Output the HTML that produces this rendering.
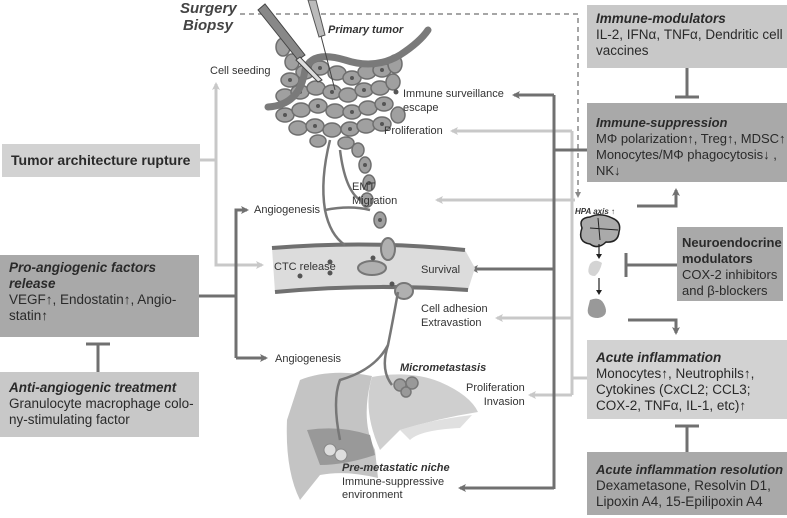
<!DOCTYPE html>
<html><head><meta charset="utf-8"><style>
body{margin:0;background:#fff;}
#c{position:relative;width:787px;height:518px;overflow:hidden;font-family:"Liberation Sans",sans-serif;color:#2a2a2a;}
.b{position:absolute;box-sizing:border-box;padding:5px 9px;font-size:13.5px;line-height:16px;white-space:nowrap;}
.b i{font-weight:bold;}
.l{position:absolute;font-size:11px;line-height:13.5px;color:#333;white-space:nowrap;}
svg{position:absolute;left:0;top:0;}
</style></head><body><div id="c">
<svg width="787" height="518" viewBox="0 0 787 518">
<defs>
<marker id="ad" markerWidth="8" markerHeight="8" refX="6" refY="4" orient="auto" markerUnits="userSpaceOnUse"><path d="M0,0 L8,4 L0,8 L2,4z" fill="#707070"/></marker>
<marker id="al" markerWidth="8" markerHeight="8" refX="6" refY="4" orient="auto" markerUnits="userSpaceOnUse"><path d="M0,0 L8,4 L0,8 L2,4z" fill="#c8c8c8"/></marker>
</defs>
<path d="M240,14 H578 V193" fill="none" stroke="#888" stroke-width="1.5" stroke-dasharray="5,4"/>
<path d="M575,192 L578,198 L581,192z" fill="#888"/>
<g stroke="#c8c8c8" stroke-width="3" fill="none">
<path d="M200,160 H216 V84" marker-end="url(#al)"/>
<path d="M216,160 V265 H262" marker-end="url(#al)"/>
<path d="M572,131 V395"/>
<path d="M572,131 H452" marker-end="url(#al)"/>
<path d="M575,200 H437" marker-end="url(#al)"/>
<path d="M572,318 H497" marker-end="url(#al)"/>
<path d="M572,395 H530" marker-end="url(#al)"/>
<path d="M572,378 H587"/>
</g>
<g stroke="#707070" stroke-width="3" fill="none">
<path d="M554,95 V489"/>
<path d="M554,150 H587"/>
<path d="M554,95 H514" marker-end="url(#ad)"/>
<path d="M554,269 H472" marker-end="url(#ad)"/>
<path d="M554,488 H460" marker-end="url(#ad)"/>
<path d="M199,296 H236"/>
<path d="M236,358 V210 H247" marker-end="url(#ad)"/>
<path d="M236,358 H266" marker-end="url(#ad)"/>
<path d="M637,206 H676 V190" marker-end="url(#ad)"/>
<path d="M628,320 H676 V333" marker-end="url(#ad)"/>
<path d="M687,68 V97 M675,97 H699"/>
<path d="M98,344 V372 M86,344 H110"/>
<path d="M626,253 V277 M626,265 H677"/>
<path d="M687,426 V452 M675,426 H699"/>
</g>
<path d="M272,248 Q370,240 465,250 L475,268 L468,290 Q370,283 275,292z" fill="#dcdcdc"/>
<path d="M272,248 Q370,240 465,250 M275,292 Q370,283 468,290" fill="none" stroke="#707070" stroke-width="4"/>
<ellipse cx="372" cy="268" rx="14" ry="7" fill="#b0b0b0" stroke="#777" stroke-width="2"/>
<ellipse cx="388" cy="249" rx="7" ry="11" fill="#b0b0b0" stroke="#777" stroke-width="2"/>
<ellipse cx="404" cy="291" rx="9" ry="8" fill="#b0b0b0" stroke="#777" stroke-width="2"/>
<g fill="#555"><circle cx="300" cy="276" r="2.5"/><circle cx="330" cy="262" r="2.5"/><circle cx="330" cy="273" r="2.5"/><circle cx="373" cy="258" r="2.5"/><circle cx="392" cy="284" r="2.5"/></g>
<path d="M300,380 Q330,368 372,376 Q360,420 375,450 L378,478 Q345,470 320,475 L300,500 Q285,470 287,420z" fill="#c4c4c4"/>
<path d="M372,377 Q410,370 440,382 Q470,395 478,412 Q440,418 400,430 L380,450 Q362,410 372,377z" fill="#cfcfcf"/>
<path d="M400,430 Q430,420 472,415 L460,428 Q420,430 410,440z" fill="#e0e0e0"/>
<path d="M307,430 Q340,425 370,435 L375,455 Q345,465 320,465z" fill="#999"/>
<circle cx="330" cy="450" r="6" fill="#ddd" stroke="#888"/><circle cx="341" cy="455" r="6" fill="#ddd" stroke="#888"/>
<g fill="#999" stroke="#777" stroke-width="1.5"><circle cx="400" cy="385" r="6"/><circle cx="412" cy="383" r="6"/><circle cx="406" cy="392" r="5"/></g>
<g stroke="#777" stroke-width="2.5" fill="none">
<path d="M330,140 Q320,180 325,210 Q330,235 345,245"/>
<path d="M325,210 Q350,205 370,210"/>
<path d="M340,150 Q345,190 360,200"/>
<path d="M398,292 Q393,320 388,345 Q375,370 340,380 Q332,400 340,440"/>
<path d="M388,345 Q380,370 392,385"/>
</g>
<g fill="#a0a0a0" stroke="#6e6e6e" stroke-width="1.5">
<ellipse cx="283" cy="47" rx="7" ry="9"/><ellipse cx="292" cy="62" rx="7" ry="8"/>
<ellipse cx="290" cy="80" rx="9" ry="7"/><ellipse cx="305" cy="72" rx="9" ry="7"/><ellipse cx="320" cy="68" rx="9" ry="7"/><ellipse cx="337" cy="73" rx="9" ry="7"/><ellipse cx="352" cy="78" rx="9" ry="7"/><ellipse cx="367" cy="72" rx="9" ry="7"/><ellipse cx="382" cy="70" rx="9" ry="7"/><ellipse cx="395" cy="64" rx="7" ry="9"/>
<ellipse cx="285" cy="96" rx="9" ry="7"/><ellipse cx="300" cy="92" rx="9" ry="7"/><ellipse cx="316" cy="88" rx="9" ry="7"/><ellipse cx="332" cy="92" rx="9" ry="7"/><ellipse cx="348" cy="95" rx="9" ry="7"/><ellipse cx="364" cy="90" rx="9" ry="7"/><ellipse cx="380" cy="88" rx="9" ry="7"/><ellipse cx="393" cy="82" rx="7" ry="8"/>
<ellipse cx="285" cy="115" rx="9" ry="7"/><ellipse cx="301" cy="110" rx="9" ry="7"/><ellipse cx="318" cy="106" rx="9" ry="7"/><ellipse cx="335" cy="111" rx="9" ry="7"/><ellipse cx="352" cy="112" rx="9" ry="7"/><ellipse cx="368" cy="108" rx="9" ry="7"/><ellipse cx="384" cy="104" rx="9" ry="7"/><ellipse cx="398" cy="115" rx="7" ry="8"/>
<ellipse cx="298" cy="128" rx="9" ry="7"/><ellipse cx="315" cy="126" rx="9" ry="7"/><ellipse cx="332" cy="130" rx="9" ry="7"/><ellipse cx="350" cy="129" rx="9" ry="7"/><ellipse cx="366" cy="126" rx="9" ry="7"/><ellipse cx="382" cy="124" rx="9" ry="7"/>
<ellipse cx="318" cy="141" rx="8" ry="6"/><ellipse cx="346" cy="143" rx="8" ry="6"/><ellipse cx="358" cy="150" rx="6" ry="7"/><ellipse cx="365" cy="165" rx="6" ry="8"/><ellipse cx="369" cy="183" rx="6" ry="8"/><ellipse cx="367" cy="200" rx="6" ry="7"/><ellipse cx="380" cy="220" rx="6" ry="8"/>
</g>
<g fill="#555"><circle cx="290" cy="80" r="2"/><circle cx="320" cy="68" r="2"/><circle cx="352" cy="78" r="2"/><circle cx="382" cy="70" r="2"/><circle cx="300" cy="92" r="2"/><circle cx="332" cy="92" r="2"/><circle cx="364" cy="90" r="2"/><circle cx="285" cy="115" r="2"/><circle cx="318" cy="106" r="2"/><circle cx="352" cy="112" r="2"/><circle cx="384" cy="104" r="2"/><circle cx="315" cy="126" r="2"/><circle cx="350" cy="129" r="2"/><circle cx="382" cy="124" r="2"/><circle cx="365" cy="165" r="2"/><circle cx="369" cy="183" r="2"/><circle cx="380" cy="220" r="2"/><circle cx="396" cy="92" r="2.5"/></g>
<path d="M268,107 Q300,105 305,70 Q312,50 345,60 Q375,70 400,55 Q420,42 428,30" fill="none" stroke="#7a7a7a" stroke-width="7" stroke-linecap="round"/>
<path d="M258,10 L265,4 L305,55 L298,60z" fill="#888" stroke="#444"/>
<path d="M300,57 L322,80 L318,82 L296,60z" fill="#ddd" stroke="#444"/>
<path d="M308,0 L316,0 L325,35 L319,37z" fill="#bbb" stroke="#555"/>
<path d="M321,36 L335,90" stroke="#444" stroke-width="1"/>
<path d="M582,228 Q578,218 590,217 Q600,212 612,218 Q622,222 619,232 Q618,243 606,242 Q598,250 590,244 Q577,242 582,228z" fill="#aaa" stroke="#222" stroke-width="1.5"/>
<path d="M598,218 L600,240 M590,228 L618,230" stroke="#222" stroke-width="1" fill="none"/>
<path d="M599,244 V256" stroke="#222" stroke-width="1.2"/><path d="M596,254 L599,259 L602,254z" fill="#222"/>
<path d="M590,264 Q595,258 602,263 Q600,272 595,276 Q585,276 590,264z" fill="#d4d4d4"/>
<path d="M599,278 V292" stroke="#222" stroke-width="1.2"/><path d="M596,290 L599,295 L602,290z" fill="#222"/>
<path d="M590,300 Q600,296 604,304 Q610,316 598,318 Q586,318 588,308z" fill="#999"/>
</svg>

<div class="b" style="left:587px;top:5px;width:200px;height:63px;background:#c8c8c8;padding-top:6px"><i>Immune-modulators</i><br>IL-2, IFNα, TNFα, Dendritic cell<br>vaccines</div>
<div class="b" style="left:587px;top:103px;width:200px;height:79px;background:#a9a9a9;padding-top:12px;font-size:13px"><i>Immune-suppression</i><br>MΦ polarization↑, Treg↑, MDSC↑<br>Monocytes/MΦ phagocytosis↓ ,<br>NK↓</div>
<div class="b" style="left:2px;top:144px;width:198px;height:33px;background:#d2d2d2;font-weight:bold;padding-top:8px;font-size:14px">Tumor architecture rupture</div>
<div class="b" style="left:0;top:255px;width:199px;height:82px;background:#a9a9a9"><i>Pro-angiogenic factors</i><br><i>release</i><br>VEGF↑, Endostatin↑, Angio-<br>statin↑</div>
<div class="b" style="left:0;top:372px;width:199px;height:65px;background:#c8c8c8;padding-top:8px"><i>Anti-angiogenic treatment</i><br>Granulocyte macrophage colo-<br>ny-stimulating factor</div>
<div class="b" style="left:677px;top:227px;width:106px;height:74px;background:#a9a9a9;padding:8px 5px;font-size:13px"><b>Neuroendocrine</b><br><b>modulators</b><br>COX-2 inhibitors<br>and β-blockers</div>
<div class="b" style="left:587px;top:340px;width:200px;height:79px;background:#d2d2d2;padding-top:10px"><i>Acute inflammation</i><br>Monocytes↑, Neutrophils↑,<br>Cytokines (CxCL2; CCL3;<br>COX-2, TNFα, IL-1, etc)↑</div>
<div class="b" style="left:587px;top:452px;width:200px;height:63px;background:#a9a9a9;padding-top:10px"><i style="font-size:13px">Acute inflammation resolution</i><br>Dexametasone, Resolvin D1,<br>Lipoxin A4, 15-Epilipoxin A4</div>

<div class="l" style="left:180px;top:0px;font-size:15px;line-height:17px;font-weight:bold;font-style:italic;color:#444">Surgery</div>
<div class="l" style="left:183px;top:17px;font-size:15px;line-height:17px;font-weight:bold;font-style:italic;color:#444">Biopsy</div>
<div class="l" style="left:328px;top:24px;font-weight:bold;font-style:italic">Primary tumor</div>
<div class="l" style="left:210px;top:65px">Cell seeding</div>
<div class="l" style="left:403px;top:88px">Immune surveillance<br>escape</div>
<div class="l" style="left:384px;top:125px">Proliferation</div>
<div class="l" style="left:352px;top:181px">EMT<br>Migration</div>
<div class="l" style="left:254px;top:204px">Angiogenesis</div>
<div class="l" style="left:274px;top:261px">CTC release</div>
<div class="l" style="left:421px;top:264px">Survival</div>
<div class="l" style="left:421px;top:303px">Cell adhesion<br>Extravastion</div>
<div class="l" style="left:275px;top:353px">Angiogenesis</div>
<div class="l" style="left:400px;top:362px;font-weight:bold;font-style:italic">Micrometastasis</div>
<div class="l" style="left:466px;top:382px;text-align:right">Proliferation<br>Invasion</div>
<div class="l" style="left:342px;top:462px"><b><i>Pre-metastatic niche</i></b><br>Immune-suppressive<br>environment</div>
<div class="l" style="left:575px;top:205px;font-size:8px;font-weight:bold;font-style:italic">HPA axis ↑</div>
</div></body></html>
